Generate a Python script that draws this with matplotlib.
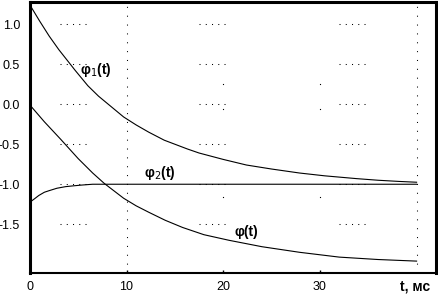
import matplotlib
matplotlib.use('Agg')
import matplotlib.pyplot as plt

plt.rcParams['font.family'] = ['Liberation Sans', 'DejaVu Sans']

# values
t_phi1 = [0, 1, 2, 3, 4.7, 6, 7.1, 8.5, 9.7, 11, 12.3, 13.9, 16.3, 17.5, 20, 22.4, 25, 27.9, 30.5, 33.8, 36, 38.2, 40]
phi1 = [1.24, 1.04, 0.85, 0.68, 0.42, 0.23, 0.10, -0.04, -0.16, -0.26, -0.35, -0.45, -0.56, -0.61, -0.69, -0.76, -0.81, -0.86, -0.895, -0.93, -0.95, -0.965, -0.975]

t_phi2 = [0, 0.5, 0.93, 1.5, 2.0, 2.8, 3.7, 4.5, 5.4, 6.5, 8, 40]
phi2 = [-1.225, -1.18, -1.14, -1.10, -1.08, -1.05, -1.03, -1.02, -1.01, -1.0, -1.0, -1.0]

t_phi = [0, 1.5, 3.2, 5, 6.5, 7.7, 9.7, 11, 12.3, 14, 15.8, 18, 20.6, 24, 27.9, 32, 36, 40]
phi = [-0.01, -0.22, -0.44, -0.68, -0.86, -0.99, -1.175, -1.27, -1.35, -1.45, -1.54, -1.63, -1.70, -1.78, -1.85, -1.91, -1.94, -1.96]

x_ticks = [0, 10, 20, 30]
y_ticks = [1.0, 0.5, 0.0, -0.5, -1.0, -1.5]
y_labels = ['1.0', '0.5', '0.0', '-0.5', '-1.0', '-1.5']

fig = plt.figure(figsize=(4.39, 2.94), dpi=100)
ax = fig.add_axes([0.068, 0.071, 0.925, 0.922])

# sparse dotted grid, as in the original
for xv in [10, 40]:
    ax.axvline(xv, color='black', lw=0.75, ls=(0, (1, 7.5)), zorder=1)
for yv in y_ticks:
    for x0, x1 in [(3.1, 6.3), (17.5, 20.6), (32, 35.2)]:
        ax.plot([x0, x1], [yv, yv], color='black', lw=0.75, ls=(0, (1, 5)), zorder=1)
for xv in [20, 30]:
    ax.plot([xv] * 3, [0.25, -0.06, -1.16], ls='none', marker='s', ms=0.8, mew=0, color='black', zorder=1)

ax.plot(t_phi1, phi1, color='black', lw=0.8, zorder=3)
ax.plot(t_phi2, phi2, color='black', lw=0.8, zorder=3)
ax.plot(t_phi, phi, color='black', lw=0.8, zorder=3)

ax.text(6.8, 0.43, 'φ$_1$(t)', fontsize=10, fontweight='bold', ha='center', va='center', zorder=4)
ax.text(13.4, -0.86, 'φ$_2$(t)', fontsize=10, fontweight='bold', ha='center', va='center', zorder=4)
ax.text(22.4, -1.6, 'φ(t)', fontsize=10, fontweight='bold', ha='center', va='center', zorder=4)

ax.set_xlim(0, 42)
ax.set_ylim(-2.11, 1.275)
ax.set_xticks(x_ticks)
ax.set_xticklabels([str(v) for v in x_ticks])
ax.set_yticks(y_ticks)
ax.set_yticklabels(y_labels)
ax.tick_params(axis='x', direction='in', length=2.5, width=1, pad=6, labelsize=9)
ax.tick_params(axis='y', length=0, pad=7, labelsize=9)

for side in ['left', 'top', 'right']:
    ax.spines[side].set_linewidth(2.2)
ax.spines['bottom'].set_linewidth(1.5)

fig.text(0.945, 0.027, 't, мс', fontsize=10, fontweight='bold', ha='center', va='center')

fig.savefig('out.png', dpi=100)
